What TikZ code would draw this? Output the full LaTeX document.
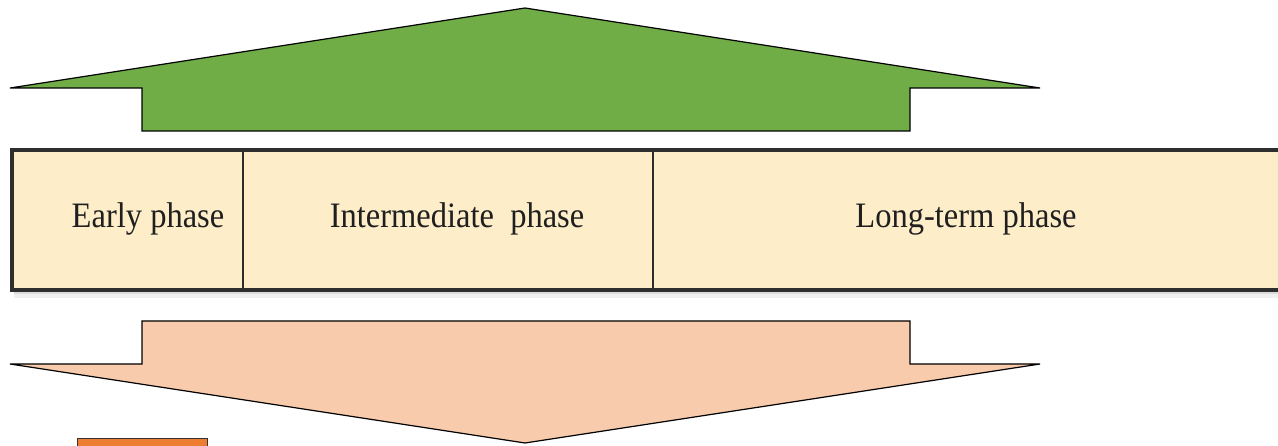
\documentclass[tikz,border=0pt]{standalone}
\usepackage{fontspec}
\setmainfont{Liberation Serif}
\definecolor{upgreen}{HTML}{70AD47}
\definecolor{downpeach}{HTML}{F8CBAD}
\definecolor{phasefill}{HTML}{FDEDC8}
\definecolor{frameline}{HTML}{2E2E2E}
\definecolor{orangebox}{HTML}{ED7D31}
\tikzset{
  bigarrow/.style={draw=black, line width=1.2pt, line join=miter},
  phasebox/.style={fill=phasefill, draw=frameline, line width=3.2pt},
  phaselabel/.style={anchor=base, inner sep=0pt, font=\fontsize{32.5}{38}\selectfont, text=black!88},
}
\begin{document}
\begin{tikzpicture}[x=1pt,y=-1pt]
\useasboundingbox (0,0) rectangle (1278,446);
% green up arrow
\fill[bigarrow, fill=upgreen] (525,8) -- (1040,88) -- (910,88) -- (910,131) -- (142,131) -- (142,88) -- (10,88) -- cycle;
% shadow of timeline box
\fill[black!14] (14,290) rectangle (1290,294);
\fill[black!6] (14,294) rectangle (1290,298);
% timeline box
\draw[phasebox] (12,150) rectangle (1290,290);
\draw[draw=frameline, line width=2.4pt] (243,150) -- (243,290);
\draw[draw=frameline, line width=2.4pt] (653,150) -- (653,290);
\node[phaselabel] (early) at (148,228) {\scalebox{1}[1.1]{Early phase}};
\node[phaselabel] (inter) at (457,228) {\scalebox{1}[1.1]{Intermediate\ \ phase}};
\node[phaselabel] (long) at (966,228) {\scalebox{1}[1.1]{Long-term phase}};
% peach down arrow
\fill[bigarrow, fill=downpeach] (142,321) -- (910,321) -- (910,364) -- (1040,364) -- (525,443) -- (10,364) -- (142,364) -- cycle;
% orange box at bottom
\fill[fill=orangebox, draw=black!80, line width=1pt] (77,438) rectangle (207,450);
\end{tikzpicture}
\end{document}
